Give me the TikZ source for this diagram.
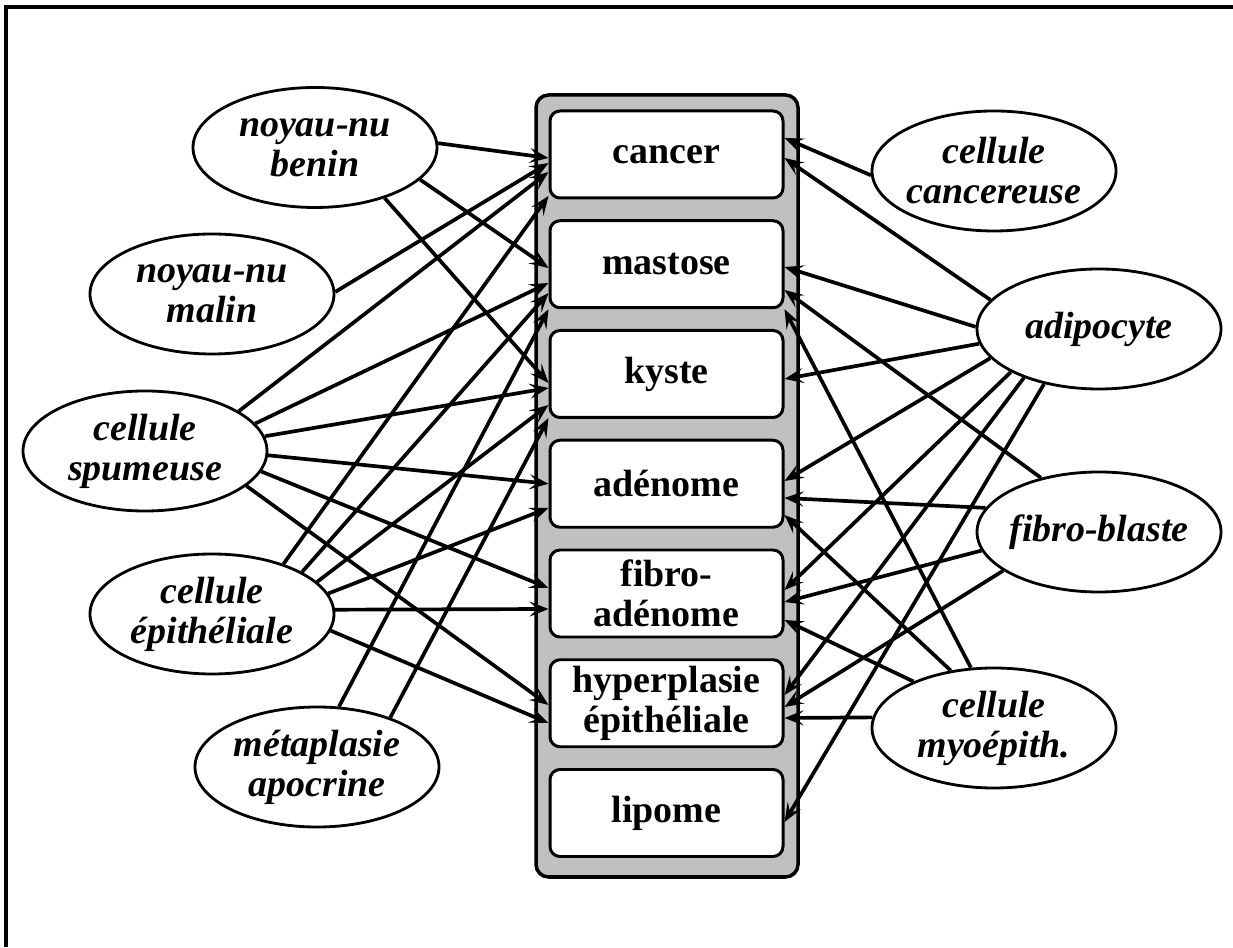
\documentclass[tikz,border=0pt]{standalone}
\usepackage{fontspec}
\setmainfont{Liberation Serif}
\usetikzlibrary{arrows.meta,shapes.geometric}
\definecolor{stipple}{HTML}{C0C0C0}
\tikzstyle{class_box}=[rectangle,
                       minimum width=4.66cm,
                       minimum height=1.74cm,
                       inner sep=0pt,
                       draw=black,
                       line width=1.7pt,
                       fill=white,
                       align=center,
                       font=\bfseries\fontsize{21.6}{22.8}\selectfont,
                       rounded corners=0.2cm ]
\tikzstyle{feature_node}=[ellipse,
                          minimum width=4.88cm,
                          minimum height=2.4cm,
                          inner sep=-0.3cm,
                          draw=black,
                          line width=1.6pt,
                          fill=white,
                          align=center,
                          font=\bfseries\itshape\fontsize{21.6}{22.8}\selectfont ]
\tikzstyle{link_arrow}=[line width=2.1pt,
                        -{Stealth[length=0.38cm, width=0.3cm, inset=0.16cm]}]

\begin{document}
\begin{tikzpicture}
    \useasboundingbox (0,0) rectangle (24.66cm, 18.94cm);
    \draw[line width=1.9pt] (0.12cm, 0cm) -- (0.12cm, 18.8cm) -- (24.66cm, 18.8cm);

    \node at (13.34cm, 9.22cm) (tray) [rectangle, minimum width=5.24cm, minimum height=15.64cm,
        draw=black, line width=2pt, fill=stipple, rounded corners=0.25cm] {};
    \foreach \name/\txt [count=\i from 0] in {cancer/cancer, mastose/mastose, kyste/kyste,
        adenome/adénome, fibroadenome/{fibro-\\adénome}, hyperplasie/{hyperplasie\\épithéliale}, lipome/lipome} {
        \node at (13.33cm, 15.85cm - 2.195cm * \i) (\name) [class_box] {\txt};
    }

    \node at (6.30cm, 15.99cm) (benin) [feature_node] {noyau-nu\\benin};
    \node at (4.24cm, 13.06cm) (malin) [feature_node] {noyau-nu\\malin};
    \node at (2.90cm, 9.92cm) (spumeuse) [feature_node] {cellule\\spumeuse};
    \node at (4.24cm, 6.66cm) (epitheliale) [feature_node] {cellule\\épithéliale};
    \node at (6.34cm, 3.60cm) (metaplasie) [feature_node] {métaplasie\\apocrine};

    \node at (19.88cm, 15.52cm) (cancereuse) [feature_node] {cellule\\cancereuse};
    \node at (21.98cm, 12.36cm) (adipocyte) [feature_node] {adipocyte};
    \node at (21.98cm, 8.30cm) (fibroblaste) [feature_node] {fibro-blaste};
    \node at (19.88cm, 4.38cm) (myoepith) [feature_node] {cellule\\myoépith.};

    % left side: ellipse angle / target box / shift on west side
    \foreach \src/\ang/\dst/\dy in {benin/2/cancer/-0.07, benin/343/mastose/-0.075, benin/324/kyste/-0.18,
        malin/1/cancer/-0.17,
        spumeuse/23/cancer/-0.35, spumeuse/14/mastose/-0.375, spumeuse/7/kyste/-0.28,
        spumeuse/358/adenome/0, spumeuse/350/fibroadenome/0.11, spumeuse/341/hyperplasie/-0.035,
        epitheliale/35/cancer/-0.83, epitheliale/25/mastose/-0.575, epitheliale/17/kyste/-0.62,
        epitheliale/10/adenome/-0.485, epitheliale/2/fibroadenome/-0.31, epitheliale/352/hyperplasie/-0.395,
        metaplasie/70/mastose/-0.9, metaplasie/34/kyste/-0.88} {
        \draw[link_arrow] (\src.\ang) -- ([yshift=\dy cm]\dst.west);
    }

    % right side
    \foreach \src/\ang/\dst/\dy in {cancereuse/182/cancer/0.33,
        adipocyte/165/cancer/-0.07, adipocyte/179/mastose/-0.055, adipocyte/187/kyste/-0.1,
        adipocyte/195/adenome/0.055, adipocyte/206/fibroadenome/0.07, adipocyte/213/hyperplasie/0.165,
        adipocyte/225/lipome/-0.18,
        fibroblaste/137/mastose/-0.515, fibroblaste/168/adenome/-0.285,
        fibroblaste/189/fibroadenome/-0.17, fibroblaste/202/hyperplasie/-0.075,
        myoepith/111/mastose/-0.9, myoepith/127/adenome/-0.625,
        myoepith/150/fibroadenome/-0.53, myoepith/175/hyperplasie/-0.295} {
        \draw[link_arrow] (\src.\ang) -- ([yshift=\dy cm]\dst.east);
    }
\end{tikzpicture}
\end{document}
